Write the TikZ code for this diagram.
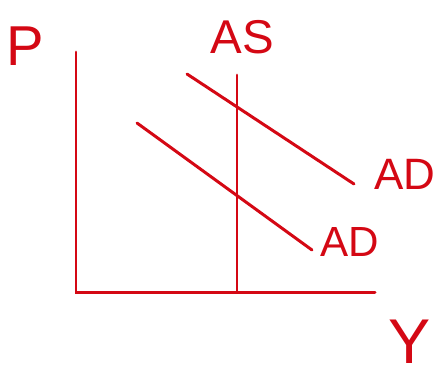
\documentclass[tikz,border=0pt]{standalone}
\usepackage{fontspec}
\setmainfont{Liberation Sans}
\usepackage{tikz}
\usetikzlibrary{positioning}
\definecolor{inkred}{RGB}{212,8,20}
\tikzset{
  ink/.style={draw=inkred,line width=1.7pt,line cap=round},
  lbl/.style={text=inkred,inner sep=0,font=\fontsize{25}{25}\selectfont},
  biglbl/.style={lbl,font=\fontsize{36}{36}\selectfont}
}

\begin{document}
\begin{tikzpicture}[x=0.02cm,y=-0.02cm]
\useasboundingbox (0,0) rectangle (439,380);

% Axes
\coordinate (origin) at (76,292);
\coordinate (ptop) at (76,52);
\coordinate (yend) at (375,292);
\draw[ink] (ptop) -- (origin) -- (yend);

\node[lbl,font=\fontsize{32}{32}\selectfont] (p) at (25,46) {P};
\node[biglbl] (y) at (410,342) {Y};

% Aggregate supply
\coordinate (astop) at (237,75);
\coordinate (asbot) at (237,292);
\draw[ink] (astop) -- (asbot);
\node[lbl,font=\fontsize{27}{27}\selectfont] (as) at (242,37) {AS};

% Aggregate demand (new)
\coordinate (adtopa) at (187,74);
\coordinate (adtopb) at (354,184);
\draw[ink] (adtopa) -- (adtopb);
\node[lbl] (adtop) at (405,174) {AD};

% Aggregate demand (old)
\coordinate (adbota) at (137,123);
\coordinate (adbotb) at (312,250);
\draw[ink] (adbota) -- (adbotb);
\node[lbl,font=\fontsize{24}{24}\selectfont] (adbot) at (350,242) {AD};

\end{tikzpicture}
\end{document}
